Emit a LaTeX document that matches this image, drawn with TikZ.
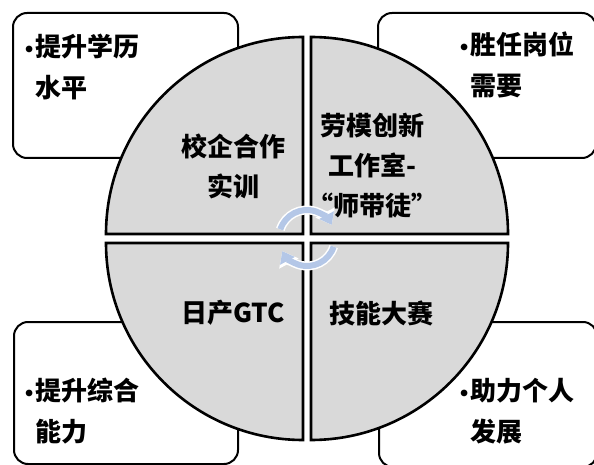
\documentclass[tikz,border=0pt]{standalone}
\usepackage{fontspec}
\setmainfont{Noto Sans CJK SC}
\newfontfamily\dotfont{DejaVu Sans}
\usepackage{tikz}
\usetikzlibrary{arrows.meta}
\definecolor{piegray}{HTML}{D9D9D9}
\definecolor{cycleblue}{HTML}{B4C7E7}
\tikzset{infobox/.style={
    draw=black,
    line width=2pt,
    rounded corners=14pt,
    anchor=north west,
    inner sep=0pt}}
\tikzset{quarter/.style={
    fill=piegray,
    draw=black,
    line width=2.6pt}}
\tikzset{pielabel/.style={
    font=\fontsize{26}{40}\selectfont\bfseries,
    align=center,
    inner sep=0pt}}
\tikzset{boxlabel/.style={
    font=\fontsize{26}{41}\selectfont\bfseries,
    align=left,
    anchor=west,
    inner sep=0pt}}
\tikzset{cyclehalo/.style={
    draw=white,
    line width=9pt,
    -{Triangle[length=14pt,width=21pt]}}}
\tikzset{cyclearrow/.style={
    draw=cycleblue,
    line width=6pt,
    -{Triangle[length=11pt,width=16pt]}}}
\newcommand{\itemdot}{\makebox[12pt][l]{\dotfont\fontsize{19}{19}\selectfont •}}
\newcommand{\itemgap}{\hspace*{12pt}}

\begin{document}
\begin{tikzpicture}[x=1pt,y=1pt]
	\useasboundingbox (0,0) rectangle (594,464);
\coordinate (ctl) at (303,230);
\coordinate (ctr) at (311,230);
\coordinate (cbl) at (303,221);
\coordinate (cbr) at (311,221);
\coordinate (hub) at (307,226);

\node[infobox,minimum width=225pt,minimum height=145pt] (boxtl) at (12,452) {};
\node[infobox,minimum width=218pt,minimum height=145pt] (boxtr) at (377,452) {};
\node[infobox,minimum width=224pt,minimum height=142pt] (boxbl) at (13,143) {};
\node[infobox,minimum width=218pt,minimum height=145pt] (boxbr) at (378,143) {};

\path[quarter] (ctl) -- ++(180:197pt) arc[start angle=180,end angle=90,radius=197pt] -- cycle;
\path[quarter] (ctr) -- ++(90:197pt) arc[start angle=90,end angle=0,radius=197pt] -- cycle;
\path[quarter] (cbr) -- ++(0:197pt) arc[start angle=0,end angle=-90,radius=197pt] -- cycle;
\path[quarter] (cbl) -- ++(-90:197pt) arc[start angle=-90,end angle=-180,radius=197pt] -- cycle;

	\node[pielabel] (school) at (233,298) {校企合作\\实训};
	\node[pielabel] (studio) at (372,298) {劳模创新\\工作室-\\“师带徒”};
	\node[pielabel] (nissan) at (233,151) {日产GTC};
	\node[pielabel] (contest) at (381,151) {技能大赛};

	\node[boxlabel] (degree) at (23,396.5) {\itemdot 提升学历\\\itemgap 水平};
	\node[boxlabel] (post) at (458,399) {\itemdot 胜任岗位\\\itemgap 需要};
	\node[boxlabel] (ability) at (23,53) {\itemdot 提升综合\\\itemgap 能力};
	\node[boxlabel] (growth) at (458,52.5) {\itemdot 助力个人\\\itemgap 发展};

	\path[cyclehalo] ([shift={(162:28pt)}]hub) arc[start angle=162,end angle=28,radius=28pt];
	\path[cyclearrow] ([shift={(162:28pt)}]hub) arc[start angle=162,end angle=28,radius=28pt];
	\path[cyclehalo] ([shift={(-18:28pt)}]hub) arc[start angle=-18,end angle=-152,radius=28pt];
	\path[cyclearrow] ([shift={(-18:28pt)}]hub) arc[start angle=-18,end angle=-152,radius=28pt];
\end{tikzpicture}
\end{document}
